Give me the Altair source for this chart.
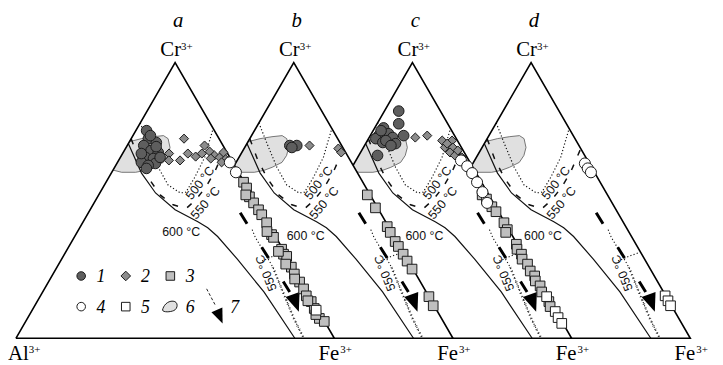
import math
import altair as alt
import pandas as pd

H = math.sqrt(3) / 2          # height of a unit ternary triangle
SHIFT = 120 / 322             # horizontal offset between neighbouring triangles
PANELS = ["a", "b", "c", "d"]

# ---------------- isolines / fields, as (Fe %, Cr %) ----------------
ISO_600 = [(0, 70.6), (9.5, 59.9), (17.5, 52.7), (26.7, 46.6), (36.0, 42.3), (40.2, 40.1),
           (44.9, 36.9), (55.2, 28.7), (69.5, 16.8), (87.6, 0)]
ISO_500 = [(0, 78.1), (6.3, 70.6), (13.7, 62.0), (20.0, 55.6), (25.3, 52.7), (26.9, 53.0),
           (27.0, 58.4), (26.5, 65.6), (23.9, 76.1)]
ISO_550 = [(0, 72.4), (5.9, 65.2), (12.6, 58.1), (19.3, 52.0), (25.2, 48.4), (29.9, 47.0),
           (31.4, 50.2), (32.2, 54.8), (32.3, 60.2), (31.2, 68.8)]
ISO_550_FE = [(54.5, 39.4), (56.9, 36.6), (63.1, 30.5), (67.8, 25.8), (72.4, 20.4),
              (77.6, 14.3), (83.7, 7.2), (90.4, 0)]
ISO_550_FE_TICKED = [(67.8, 25.8), (72.4, 20.4), (77.6, 14.3), (83.7, 7.2), (90.4, 0)]
ARC = [(63.3, 28.0), (65.8, 29.7), (68.6, 31.2)]
TREND = [(47.7, 45.5), (77.6, 16.8)]
TREND_HEAD = (81.3, 13.0)
FIELD_6 = [(0, 71.3), (3.2, 72.4), (6.6, 73.1), (9.6, 73.5), (11.6, 72.4), (13.8, 69.2),
           (14.6, 66.3), (14.4, 63.8), (12.2, 62.0), (10.2, 60.9), (7.5, 60.2), (3.1, 60.2), (0, 61.0)]
TRIANGLE = [(0, 0), (100, 0), (0, 100), (0, 0)]

# ---------------- analyses ----------------
# groups 1, 2: (Fe %, Cr %)
G1 = {
    0: [(3.4, 75.3), (5.4, 72.4), (8.6, 71.0), (5.2, 69.9), (8.4, 68.1), (11.0, 67.4), (7.9, 65.6),
        (10.6, 65.2), (7.5, 63.8), (12.1, 63.4), (10.2, 62.7), (5.9, 67.0), (5.5, 73.5), (12.5, 65.6),
        (10.2, 61.6), (9.3, 69.5)],
    1: [(13.8, 69.9), (16.0, 69.9), (14.8, 69.2)],
    2: [(4.5, 82.4), (6.8, 77.8), (2.8, 76.3), (5.4, 74.2), (2.7, 73.5), (2.3, 72.4), (7.4, 72.8),
        (10.5, 73.5), (5.2, 71.0), (9.4, 70.6), (5.8, 71.7), (5.9, 66.3), (8.3, 69.9), (2.5, 75.3)],
}
G2 = {
    0: [(16.6, 72.4), (14.6, 67.0), (15.8, 64.5), (19.3, 64.5), (20.5, 67.0), (23.5, 65.9), (24.3, 69.9),
        (24.9, 67.0), (27.0, 67.7), (29.2, 66.3), (28.6, 65.2), (31.2, 65.6), (31.5, 67.4), (33.4, 64.9),
        (34.5, 64.2), (32.7, 63.8)],
    1: [(20.0, 69.9), (29.6, 68.8), (31.2, 67.4)],
    2: [(14.5, 72.8), (17.9, 73.5), (23.5, 71.7), (26.6, 71.7), (25.6, 69.2), (28.1, 69.2), (28.1, 67.4),
        (30.2, 66.3), (32.7, 65.6), (25.6, 70.6), (30.2, 68.1)],
}
# groups 3, 4, 5 lie along the Cr-Fe side: (Al %, Cr %)
G3 = {
    0: [(0.2, 56.6), (0.3, 54.5), (1.0, 51.3), (0.8, 49.1), (0.5, 46.6), (0.4, 44.8), (0.3, 41.9),
        (0.9, 37.6), (0.8, 36.6), (0.4, 32.3), (0.7, 30.5), (0.1, 29.7), (0.6, 25.8), (0.9, 23.3),
        (0.7, 20.4), (0.7, 17.9), (1.1, 15.4), (0.6, 13.3), (0.9, 10.8), (1.1, 7.2), (0.1, 6.1),
        (1.8, 52.0), (1.8, 38.7), (1.8, 31.5), (1.8, 26.9), (1.7, 21.5), (1.5, 13.6), (1.5, 8.6)],
    1: [(0.9, 52.0), (0.7, 47.3), (0.4, 40.5), (0.5, 38.4), (0.6, 35.1), (0.5, 33.3), (0.4, 30.5),
        (0.4, 28.0), (0.3, 25.1), (0.0, 15.1), (0.3, 11.8)],
    2: [(2.1, 52.0), (1.5, 50.5), (1.2, 47.7), (0.8, 45.9), (0.3, 41.9), (0.5, 39.4), (1.5, 38.4),
        (0.3, 34.1), (1.0, 32.3), (0.5, 30.5), (1.2, 28.7), (0.4, 26.9), (0.8, 24.4), (0.3, 22.6),
        (1.0, 20.8), (0.4, 19.0), (1.0, 16.8), (0.5, 13.3), (1.0, 11.5)],
}
G4 = {
    0: [(0.9, 63.8), (0.8, 60.2)],
    2: [(2.5, 64.5), (1.6, 62.4), (1.3, 59.9), (1.4, 56.6), (1.5, 53.0), (2.0, 49.1)],
    3: [(1.4, 63.4), (1.4, 61.6), (1.1, 60.2)],
}
G5 = {
    0: [(0.6, 10.2)],
    2: [(0.3, 15.1), (0.3, 9.7), (0.5, 7.5), (0.4, 5.4)],
    3: [(0.2, 15.4), (0.2, 13.6), (0.3, 11.8)],
}

LABEL_600 = [(32.7, 38.4), (35.2, 37.1), (35.2, 37.1), (35.2, 37.1)]
LABELS_T = [("500 °C", 29.7, 56.3, 308), ("550 °C", 35.0, 49.1, 310), ("550 °C", 66.8, 23.7, 248)]

LEGEND_NUMS = ["1", "2", "3", "4", "5", "6", "7"]

C_DARK, C_MID, C_LIGHT, C_FIELD = "#5e5e5e", "#8c8c8c", "#bfbfbf", "#e0e0e0"
ARROW = "M0,1L-0.75,-0.85L0.75,-0.85Z"
BLOB = "M-1,0.45C-0.9,-0.1 -0.4,-0.75 0.35,-0.7C1.05,-0.65 1.0,0.25 0.45,0.5C0,0.7 -0.9,0.75 -1,0.45Z"

W, HGT = 715, 357
X0 = -8 / 322
Y0 = -25 / 322
X = alt.X("x:Q", scale=alt.Scale(domain=[X0, X0 + W / 322], nice=False, zero=False), axis=None)
Y = alt.Y("y:Q", scale=alt.Scale(domain=[Y0, Y0 + HGT / 322], nice=False, zero=False), axis=None)


def to_xy(fe, cr, k=0):
    return fe / 100 + cr / 200 + k * SHIFT, cr / 100 * H


def path_df(pts, k):
    rows = []
    for i, (fe, cr) in enumerate(pts):
        x, y = to_xy(fe, cr, k)
        rows.append({"x": x, "y": y, "i": i})
    return pd.DataFrame(rows)


def path(pts, k, **kw):
    return alt.Chart(path_df(pts, k)).mark_line(**kw).encode(x=X, y=Y, order="i:Q")


def symbols(k):
    rows = []

    def add(fe, cr, shape, fill, size):
        x, y = to_xy(fe, cr, k)
        rows.append({"x": x, "y": y, "shape": shape, "fill": fill, "size": size})

    for fe, cr in G1.get(k, []):
        add(fe, cr, "circle", C_DARK, 115)
    for fe, cr in G2.get(k, []):
        add(fe, cr, "diamond", C_MID, 85)
    for al, cr in G3.get(k, []):
        add(100 - al - cr, cr, "square", C_LIGHT, 95)
    for al, cr in G5.get(k, []):
        add(100 - al - cr, cr, "square", "white", 95)
    for al, cr in G4.get(k, []):
        add(100 - al - cr, cr, "circle", "white", 125)
    if not rows:
        return None
    return alt.Chart(pd.DataFrame(rows)).mark_point(
        filled=True, stroke="#1a1a1a", strokeWidth=1, opacity=1
    ).encode(
        x=X, y=Y,
        shape=alt.Shape("shape:N", scale=None),
        fill=alt.Fill("fill:N", scale=None),
        size=alt.Size("size:Q", scale=None),
    )


layers = []
for k in [3, 2, 1, 0]:
    layers.append(path(TRIANGLE, k, fill="white", stroke="white", strokeWidth=0))
    layers.append(path(FIELD_6, k, fill=C_FIELD, stroke="#555555", strokeWidth=0.8))
    layers.append(path(ISO_600, k, color="#111111", strokeWidth=1.2))
    layers.append(path(ISO_500, k, color="#111111", strokeWidth=1.2, strokeDash=[1.2, 2.2]))
    layers.append(path(ISO_550, k, color="#111111", strokeWidth=1.5, strokeDash=[6, 10]))
    layers.append(path(ISO_550_FE, k, color="#111111", strokeWidth=1.1, strokeDash=[1.2, 2.2]))
    layers.append(path(ISO_550_FE_TICKED, k, color="#333333", strokeWidth=2.6, strokeDash=[0.7, 3.3]))
    layers.append(path(ARC, k, color="#111111", strokeWidth=1.1, strokeDash=[1.2, 2.2]))
    layers.append(path(TREND, k, color="black", strokeWidth=3, strokeDash=[13, 28]))
    hx, hy = to_xy(*TREND_HEAD, k)
    layers.append(alt.Chart(pd.DataFrame([{"x": hx, "y": hy}])).mark_point(
        shape=ARROW, filled=True, fill="black", strokeWidth=0, size=400, angle=340, opacity=1
    ).encode(x=X, y=Y))
    layers.append(path(TRIANGLE, k, color="black", strokeWidth=1.6))
    s = symbols(k)
    if s is not None:
        layers.append(s)

# temperature labels
trows = []
for k in range(4):
    x, y = to_xy(*LABEL_600[k], k)
    trows.append({"x": x, "y": y, "t": "600 °C", "ang": 0})
    for t, fe, cr, ang in LABELS_T:
        x, y = to_xy(fe, cr, k)
        trows.append({"x": x, "y": y, "t": t, "ang": ang})
layers.append(alt.Chart(pd.DataFrame(trows)).mark_text(
    font="Liberation Sans", fontSize=12.5, color="#111111", align="center", baseline="middle"
).encode(x=X, y=Y, text="t:N", angle=alt.Angle("ang:Q", scale=None)))

# apex / corner labels
apex = pd.DataFrame([dict(zip(("x", "y"), to_xy(0, 100, k)), p=PANELS[k]) for k in range(4)])
fec = pd.DataFrame([dict(zip(("x", "y"), to_xy(100, 0, k))) for k in range(4)])
alc = pd.DataFrame([dict(zip(("x", "y"), to_xy(0, 0, 0)))])

serif = dict(font="Liberation Serif", color="black")
layers.append(alt.Chart(apex).mark_text(text="Cr", fontSize=21, align="right", baseline="alphabetic",
                                        dx=6, dy=-7, **serif).encode(x=X, y=Y))
layers.append(alt.Chart(apex).mark_text(text="3+", fontSize=11, align="left", baseline="alphabetic",
                                        dx=6, dy=-13, **serif).encode(x=X, y=Y))
layers.append(alt.Chart(apex).mark_text(fontSize=21, fontStyle="italic", align="center",
                                        baseline="alphabetic", dx=3, dy=-36, **serif
                                        ).encode(x=X, y=Y, text="p:N"))
layers.append(alt.Chart(fec).mark_text(text="Fe", fontSize=21, align="left", baseline="alphabetic",
                                       dx=-16, dy=22, **serif).encode(x=X, y=Y))
layers.append(alt.Chart(fec).mark_text(text="3+", fontSize=11, align="left", baseline="alphabetic",
                                       dx=6, dy=15, **serif).encode(x=X, y=Y))
layers.append(alt.Chart(alc).mark_text(text="Al", fontSize=21, align="left", baseline="alphabetic",
                                       dx=-8, dy=22, **serif).encode(x=X, y=Y))
layers.append(alt.Chart(alc).mark_text(text="3+", fontSize=11, align="left", baseline="alphabetic",
                                       dx=13, dy=15, **serif).encode(x=X, y=Y))

# legend (layout in diagram units)
LEG_X0, LEG_DX, LEG_NUM_DX = 0.205, 0.14, 0.062
LEG_ROWS = [0.1957, 0.0994]
leg_items = [
    (0, 0, "circle", C_DARK, 75), (0, 1, "diamond", C_MID, 95), (0, 2, "square", C_LIGHT, 75),
    (1, 0, "circle", "white", 75), (1, 1, "square", "white", 75), (1, 2, BLOB, C_FIELD, 250),
]
lrows = [{"x": LEG_X0 + c * LEG_DX, "y": LEG_ROWS[r], "shape": sh, "fill": f, "size": sz}
         for r, c, sh, f, sz in leg_items]
layers.append(alt.Chart(pd.DataFrame(lrows)).mark_point(
    filled=True, stroke="#1a1a1a", strokeWidth=1, opacity=1
).encode(x=X, y=Y, shape=alt.Shape("shape:N", scale=None), fill=alt.Fill("fill:N", scale=None),
         size=alt.Size("size:Q", scale=None)))
nrows = []
for idx, n in enumerate(LEGEND_NUMS):
    r, c = (0, idx) if idx < 3 else (1, idx - 3)
    nrows.append({"x": LEG_X0 + c * LEG_DX + LEG_NUM_DX, "y": LEG_ROWS[r], "t": n})
layers.append(alt.Chart(pd.DataFrame(nrows)).mark_text(
    fontSize=18, fontStyle="italic", align="center", baseline="middle", dy=1, **serif
).encode(x=X, y=Y, text="t:N"))
# legend arrow 7
la = pd.DataFrame([{"x": LEG_X0 + 3 * LEG_DX - 0.026, "y": 0.1553, "i": 0},
                   {"x": LEG_X0 + 3 * LEG_DX + 0.002, "y": 0.1025, "i": 1}])
layers.append(alt.Chart(la).mark_line(color="#222222", strokeWidth=1, strokeDash=[3, 2]).encode(
    x=X, y=Y, order="i:Q"))
lh = pd.DataFrame([{"x": LEG_X0 + 3 * LEG_DX + 0.0145, "y": 0.0696}])
layers.append(alt.Chart(lh).mark_point(shape=ARROW, filled=True, fill="black", strokeWidth=0,
                                       size=256, angle=337, opacity=1).encode(x=X, y=Y))

chart = alt.layer(*layers).properties(
    width=W, height=HGT, padding=0, autosize=alt.AutoSizeParams(type="none")
).configure_view(stroke=None)

chart.save("out.html", embed_options={"renderer": "svg", "actions": False})
